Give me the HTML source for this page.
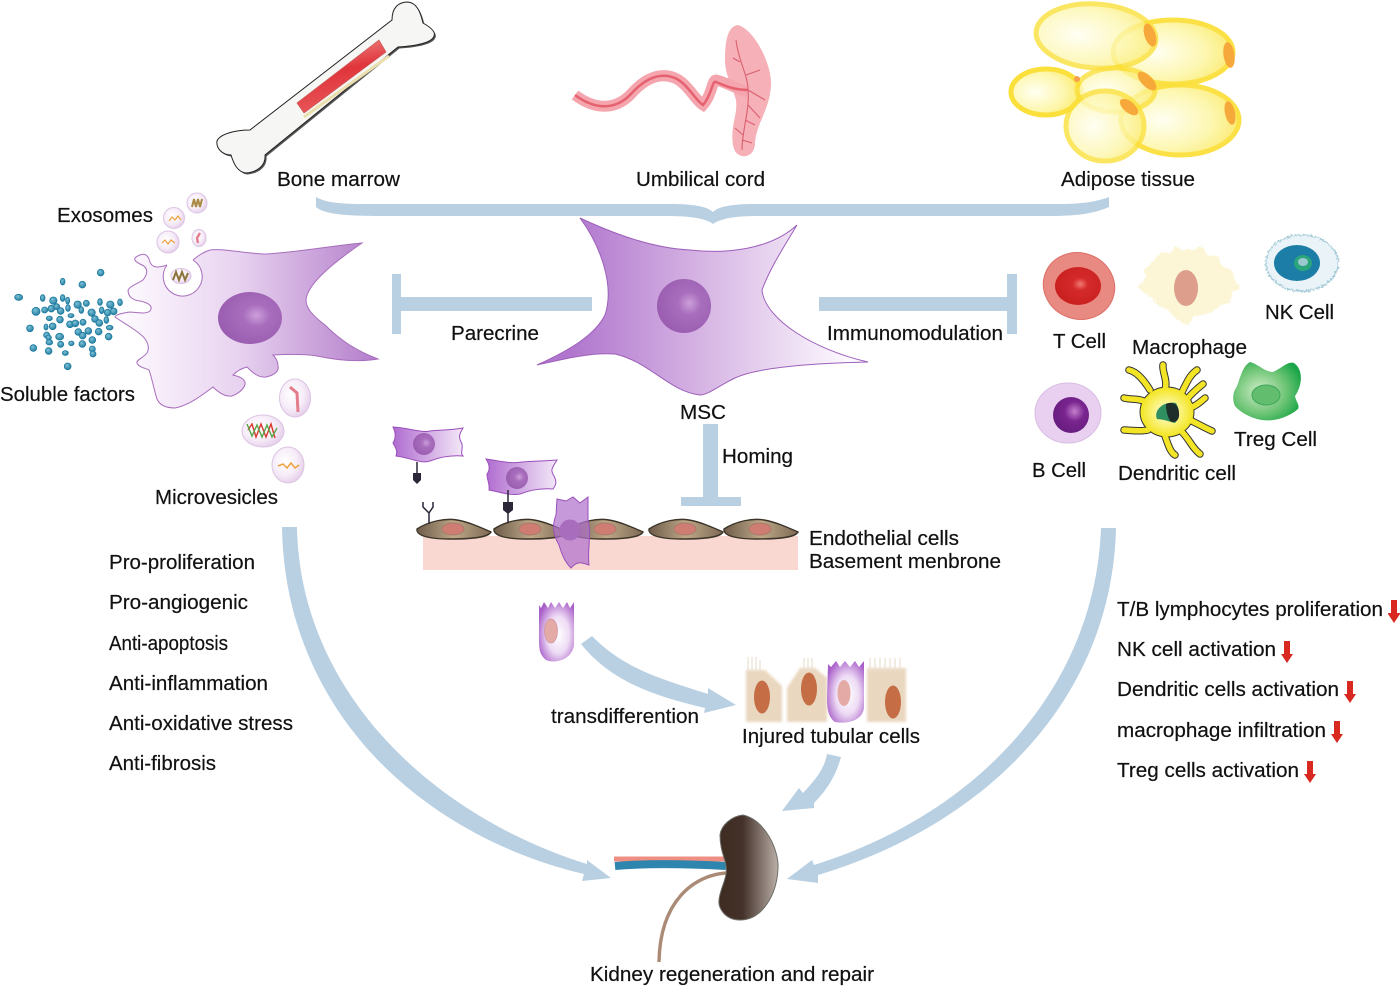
<!DOCTYPE html>
<html><head><meta charset="utf-8"><style>
html,body{margin:0;padding:0;background:#fff}
svg{display:block}
text{font-family:"Liberation Sans",sans-serif;font-size:20.5px;fill:#111;stroke:#111;stroke-width:.2}
</style></head><body>
<svg width="1400" height="986" viewBox="0 0 1400 986" xmlns="http://www.w3.org/2000/svg">
<defs>
<filter id="rough" x="-10%" y="-10%" width="120%" height="120%"><feTurbulence type="fractalNoise" baseFrequency=".45" numOctaves="2" seed="4"/><feDisplacementMap in="SourceGraphic" scale="5" xChannelSelector="R" yChannelSelector="G"/></filter>
<filter id="soft" x="-10%" y="-10%" width="120%" height="120%"><feGaussianBlur stdDeviation="1.2"/></filter>
<linearGradient id="lc" gradientUnits="userSpaceOnUse" x1="125" y1="0" x2="375" y2="0"><stop offset="0" stop-color="#fdf9fe"/><stop offset=".45" stop-color="#e8d3f0"/><stop offset="1" stop-color="#b47fcb"/></linearGradient>
<linearGradient id="mc" gradientUnits="userSpaceOnUse" x1="570" y1="0" x2="850" y2="0"><stop offset="0" stop-color="#b076cd"/><stop offset=".5" stop-color="#d8b8e5"/><stop offset="1" stop-color="#fdfafe"/></linearGradient>
<linearGradient id="sc"><stop offset="0" stop-color="#b06cd0"/><stop offset="1" stop-color="#f3e8f8"/></linearGradient>
<radialGradient id="nuc" cx=".6" cy=".45" r=".6"><stop offset="0" stop-color="#cd9fda"/><stop offset=".35" stop-color="#a86ebd"/><stop offset="1" stop-color="#9a5db0"/></radialGradient>
<radialGradient id="ves" cx=".4" cy=".4" r=".65"><stop offset="0" stop-color="#fff"/><stop offset=".6" stop-color="#f6ecf8"/><stop offset="1" stop-color="#e4cdea"/></radialGradient>
<radialGradient id="fat" cx=".35" cy=".5" r=".75"><stop offset="0" stop-color="#fffff2"/><stop offset=".55" stop-color="#fdf7ae"/><stop offset="1" stop-color="#fbe75a"/></radialGradient>
<linearGradient id="kid"><stop offset="0" stop-color="#3e2c22"/><stop offset=".4" stop-color="#44322a"/><stop offset="1" stop-color="#baafa8"/></linearGradient>
<linearGradient id="mar" x1="0" y1="0" x2=".25" y2="1"><stop offset="0" stop-color="#f09a94"/><stop offset=".5" stop-color="#e0353b"/><stop offset="1" stop-color="#e8575a"/></linearGradient>
<radialGradient id="tc" cx=".55" cy=".45" r=".55"><stop offset="0" stop-color="#f07a70"/><stop offset=".3" stop-color="#d52a2c"/><stop offset="1" stop-color="#c9201f"/></radialGradient>
<radialGradient id="tg" cx=".4" cy=".5" r=".65"><stop offset="0" stop-color="#d2edc8"/><stop offset=".6" stop-color="#6cc474"/><stop offset="1" stop-color="#1aa548"/></radialGradient>
<radialGradient id="bc" cx=".6" cy=".4" r=".55"><stop offset="0" stop-color="#c47fcd"/><stop offset=".5" stop-color="#7a2590"/><stop offset="1" stop-color="#6a1e82"/></radialGradient>
<radialGradient id="dc" cx=".5" cy=".5" r=".5"><stop offset="0" stop-color="#fffde0"/><stop offset=".55" stop-color="#faf27a"/><stop offset="1" stop-color="#f3e525"/></radialGradient>
<linearGradient id="end"><stop offset="0" stop-color="#6e5c4a"/><stop offset=".5" stop-color="#bda887"/><stop offset="1" stop-color="#7e6a55"/></linearGradient>
<radialGradient id="pt" cx=".55" cy=".55" r=".62"><stop offset="0" stop-color="#fff"/><stop offset=".5" stop-color="#eedcf5"/><stop offset="1" stop-color="#a95fc9"/></radialGradient>
<radialGradient id="dot" cx=".4" cy=".35" r=".7"><stop offset="0" stop-color="#7cc0d6"/><stop offset="1" stop-color="#1f7b9f"/></radialGradient>
<g id="ec"><path d="M-37,0 C-25,-8 -8,-11 3,-9 C15,-7 28,-1 37,3 C34,9 15,10 -5,10 C-20,10 -38,8 -37,0Z" fill="url(#end)" stroke="#3c3428" stroke-width="1.4"/><ellipse cx="-1" cy="0" rx="11" ry="6" fill="#cf7d72" stroke="#a87a6c" stroke-width="1"/></g>
</defs>

<!-- blue connectors -->
<g fill="#b9d0e3">
<path d="M316,197 C330,205 350,204 400,204 L670,204 C695,204 708,207 713,212 C718,207 730,204 755,204 L1060,204 C1085,204 1098,201 1109,197 L1109,207 C1095,213 1080,216 1050,216 L760,216 C735,216 722,218 713,224 C705,218 690,216 665,216 L385,216 C350,216 325,215 316,207Z"/>
<rect x="400" y="297" width="192" height="14"/><rect x="392" y="274" width="9" height="60"/>
<rect x="819" y="297" width="189" height="14"/><rect x="1007" y="274" width="10" height="60"/>
<rect x="703" y="424" width="15" height="74"/><rect x="681" y="497" width="60" height="9"/>
<path d="M282,527 L297,527 C300,690 430,815 587,864 L587,860 L611,878 L582,881 L584,874 C420,835 285,710 282,527Z"/>
<path d="M1101,528 L1116,528 C1112,700 985,825 818,875 L818,883 L787,879 L812,860 L814,865 C975,815 1095,690 1101,528Z"/>
<path d="M581,644 L592,636 C625,670 665,680 708,694 L708,688 L736,705 L704,713 L705,708 C650,695 610,680 581,644Z"/>
<path d="M827,754 L841,757 C835,780 822,795 814,803 L814,808 L782,811 L799,788 L803,793 C815,780 824,770 827,754Z"/>
</g>

<!-- bone -->
<path d="M392,20 C392,8 398,2 408,2 C416,3 420,10 423,23 C430,27 436,32 434,36 C432,43 415,46 398,47 L265,155 C266,165 258,172 246,173 C238,172 234,165 231,155 C222,155 216,148 217,141 C220,134 235,130 250,130Z" fill="#555" transform="translate(1.5,1.5)"/>
<path d="M392,20 C392,8 398,2 408,2 C416,3 420,10 423,23 C430,27 436,32 434,36 C432,43 415,46 398,47 L265,155 C266,165 258,172 246,173 C238,172 234,165 231,155 C222,155 216,148 217,141 C220,134 235,130 250,130Z" fill="#f6f6f5" stroke="#222" stroke-width="1"/>
<path d="M304,117 L389,56" stroke="#eadfae" stroke-width="3" fill="none"/>
<path d="M379,40 L386,52 L304,113 L297,103Z" fill="url(#mar)" stroke="#c65a55" stroke-width=".7"/>

<!-- umbilical cord -->
<path d="M738,25 C755,30 772,65 771,85 C770,110 755,125 755,145 C753,160 735,160 733,145 C730,125 738,115 736,100 C733,88 725,75 725,60 C725,40 728,26 738,25Z" fill="#f6b0b7"/>
<path d="M575,95 C595,110 615,110 630,95 C645,78 660,72 675,78 C688,84 695,100 703,105 C712,95 712,80 716,80 C725,82 735,88 748,92" fill="none" stroke="#f4a5ad" stroke-width="11"/>
<path d="M575,95 C595,110 615,110 630,95 C645,78 660,72 675,78 C688,84 695,100 703,105 C712,95 712,80 716,82 C725,86 735,90 748,90" fill="none" stroke="#e6616f" stroke-width="2.5"/>
<path d="M736,40 C738,60 748,75 748,90 C750,110 742,130 742,150 M748,90 L765,100 M746,75 L760,70 M740,62 L733,58 M748,105 L760,118 M745,120 L755,125 M743,135 L735,128 M742,140 L752,143" fill="none" stroke="#d9606f" stroke-width="1.1"/>

<!-- adipose -->
<g stroke="#fbe03c" stroke-width="5">
<ellipse cx="1173" cy="52" rx="60" ry="32" fill="url(#fat)" opacity=".95"/>
<ellipse cx="1180" cy="120" rx="59" ry="35" fill="url(#fat)" opacity=".95"/>
<ellipse cx="1096" cy="36" rx="60" ry="32" fill="url(#fat)" opacity=".8" transform="rotate(4 1096 36)"/>
<ellipse cx="1046" cy="92" rx="35" ry="23" fill="url(#fat)"/>
<ellipse cx="1116" cy="90" rx="39" ry="22" fill="url(#fat)" opacity=".8"/>
<ellipse cx="1105" cy="126" rx="39" ry="35" fill="url(#fat)" opacity=".8"/>
</g>
<g fill="#f6a93a">
<ellipse cx="1150" cy="35" rx="5.5" ry="12" transform="rotate(-18 1150 35)"/>
<ellipse cx="1229" cy="55" rx="5.5" ry="13" transform="rotate(-8 1229 55)"/>
<ellipse cx="1147" cy="81" rx="5.5" ry="12" transform="rotate(-45 1147 81)"/>
<ellipse cx="1129" cy="107" rx="5.5" ry="11" transform="rotate(-50 1129 107)"/>
<ellipse cx="1230" cy="113" rx="5" ry="12" transform="rotate(-12 1230 113)"/>
<circle cx="1077" cy="79" r="3" fill="#f6a050"/>
</g>

<!-- left cell -->
<path d="M362,243 C330,246 300,252 267,254 C245,254 225,248 210,250 C203,252 198,256 193,260 C190,267 170,267 167,265 C158,268 152,268 150,262 C148,255 145,253 140,255 C132,258 134,261 140,264 C150,268 147,275 143,280 C137,284 128,287 128,291 C129,298 133,300 140,301 C150,303 153,307 150,311 C146,314 140,313 130,312 C122,313 115,315 115,317 C122,322 133,328 140,334 C148,340 150,348 147,353 C143,358 136,360 137,363 C139,368 146,368 149,370 C152,378 154,390 157,399 C160,406 168,408 175,408 C190,405 205,393 213,387 C218,392 225,397 232,396 C240,393 246,387 245,382 C243,377 236,376 233,375 C238,370 243,368 247,367 C252,372 258,378 266,377 C276,375 279,370 278,366 C278,361 275,357 273,355 C290,354 305,354 317,356 C340,361 360,362 378,359 C355,350 340,340 325,325 C312,315 306,308 306,300 C307,285 330,265 362,243Z" fill="url(#lc)" stroke="#a76dbd" stroke-width="1"/>
<path d="M167,265 A19.5,19.5 0 1 0 193,260 L193,255 L167,258Z" fill="#fff" stroke="none"/>
<path d="M167,265 A19.5,19.5 0 1 0 193,260" fill="none" stroke="#a76dbd" stroke-width="1"/>
<ellipse cx="250" cy="318" rx="32" ry="26" fill="url(#nuc)"/>

<!-- MSC -->
<path d="M580,218 C610,232 650,248 690,250 C725,254 770,250 797,225 C785,245 770,268 762,290 C765,320 815,350 868,362 C825,363 760,366 735,378 C720,385 708,395 700,395 C670,392 650,362 615,354 C590,352 560,360 537,365 C570,350 595,335 605,315 C615,285 600,245 580,218Z" fill="url(#mc)" stroke="#9d5fbb" stroke-width="1"/>
<circle cx="684" cy="306" r="27" fill="url(#nuc)"/>

<!-- soluble factors -->
<g fill="url(#dot)" stroke="#1f7b9f" stroke-width="2.5" transform="translate(0,180) scale(.3333)">
<circle cx="302" cy="278" r="10"/><ellipse cx="188" cy="305" rx="7" ry="10"/><circle cx="247" cy="314" r="10"/><ellipse cx="56" cy="352" rx="12" ry="9"/><ellipse cx="128" cy="354" rx="7" ry="10"/><circle cx="160" cy="362" r="11"/><ellipse cx="188" cy="354" rx="7" ry="10"/><ellipse cx="203" cy="362" rx="6" ry="10"/><circle cx="233" cy="374" r="11"/><circle cx="259" cy="370" r="9"/><ellipse cx="300" cy="366" rx="7" ry="10"/><circle cx="331" cy="374" r="11"/><ellipse cx="360" cy="367" rx="7" ry="10"/><circle cx="108" cy="394" r="12"/><circle cx="134" cy="390" r="9"/><circle cx="154" cy="386" r="10"/><circle cx="170" cy="380" r="9"/><circle cx="182" cy="393" r="10"/><ellipse cx="204" cy="384" rx="7" ry="10"/><ellipse cx="244" cy="390" rx="7" ry="10"/><circle cx="275" cy="398" r="11"/><ellipse cx="305" cy="391" rx="7" ry="10"/><circle cx="323" cy="398" r="10"/><circle cx="341" cy="394" r="10"/><ellipse cx="148" cy="415" rx="9" ry="7"/><circle cx="180" cy="419" r="10"/><ellipse cx="213" cy="407" rx="9" ry="6"/><circle cx="285" cy="417" r="10"/><circle cx="298" cy="429" r="10"/><ellipse cx="319" cy="420" rx="7" ry="10"/><circle cx="90" cy="445" r="10"/><ellipse cx="138" cy="441" rx="6" ry="9"/><circle cx="158" cy="439" r="10"/><circle cx="210" cy="433" r="10"/><circle cx="226" cy="430" r="10"/><circle cx="249" cy="427" r="9"/><ellipse cx="329" cy="443" rx="10" ry="7"/><circle cx="235" cy="456" r="10"/><circle cx="265" cy="453" r="10"/><circle cx="296" cy="455" r="10"/><circle cx="140" cy="465" r="9"/><ellipse cx="179" cy="470" rx="12" ry="10"/><circle cx="248" cy="467" r="10"/><circle cx="326" cy="470" r="10"/><circle cx="146" cy="473" r="8"/><ellipse cx="148" cy="487" rx="10" ry="8"/><circle cx="277" cy="480" r="10"/><circle cx="182" cy="493" r="9"/><ellipse cx="214" cy="490" rx="8" ry="7"/><circle cx="247" cy="492" r="10"/><circle cx="100" cy="504" r="10"/><circle cx="146" cy="513" r="10"/><ellipse cx="196" cy="519" rx="9" ry="7"/><circle cx="277" cy="507" r="9"/><circle cx="279" cy="522" r="9"/><circle cx="203" cy="559" r="10"/>
</g>

<!-- vesicles -->
<g fill="url(#ves)" stroke="#dcc3e4" stroke-width="1">
<circle cx="197" cy="203" r="10"/><circle cx="174" cy="218" r="10.5"/><circle cx="168" cy="242" r="11"/><ellipse cx="199" cy="238" rx="7" ry="8.5"/><ellipse cx="181" cy="276" rx="10" ry="7.5"/>
<ellipse cx="295" cy="398" rx="15.5" ry="19"/><ellipse cx="263" cy="431" rx="21" ry="16"/><ellipse cx="288" cy="465" rx="16" ry="18"/>
</g>
<g fill="none" stroke-width="1.2">
<path d="M192,207 L194,199 L196,207 L198,199 L200,207 L202,199" stroke="#a88a44" stroke-width="2"/>
<path d="M169,221 L172,217 L175,220 L178,216 L181,220" stroke="#eca33e"/>
<path d="M162,243 L165,240 L168,244 L171,240 L175,243" stroke="#eca33e"/>
<path d="M200,233 L197,238 L198,243" stroke="#e57d90" stroke-width="2.4"/>
<path d="M173,280 L176,272 L179,280 L182,272 L185,280 L188,273" stroke="#8b7438" stroke-width="2"/>
<path d="M290,387 L297,393 L298,412" stroke="#e47c8c" stroke-width="3"/>
<path d="M248,430 L252,424 L256,437 L261,424 L266,437 L271,424 L275,438" stroke="#d9362d" stroke-width="1.4"/>
<path d="M247,424 L252,436 L257,425 L262,437 L267,425 L272,437 L277,428" stroke="#57a84a" stroke-width="1.4"/>
<path d="M278,466 L283,464 L287,468 L291,463 L295,468 L299,465" stroke="#eca33e" stroke-width="1.5"/>
</g>

<!-- endothelium -->
<rect x="423" y="536" width="375" height="34" fill="#fad8d2"/>
<use href="#ec" x="454" y="529"/><use href="#ec" x="531" y="529"/><use href="#ec" x="606" y="529"/><use href="#ec" x="686" y="529"/><use href="#ec" x="761" y="529"/>
<g fill="url(#sc)" stroke="#9a4fbb" stroke-width="1">
<path d="M393,427 C410,428 420,433 430,431 C440,430 452,430 463,428 C458,436 459,438 462,444 C463,450 460,453 463,456 C450,455 440,457 430,461 C420,464 412,458 396,456 C398,450 395,447 393,443 C396,438 396,433 393,427Z"/>
<path d="M486,459 C500,461 510,464 522,462 C535,461 548,461 557,460 C552,468 550,470 554,476 C557,482 556,485 553,489 C540,488 530,490 520,494 C510,496 500,492 489,490 C490,484 487,480 487,474 C490,470 490,465 486,459Z"/>
</g>
<circle cx="424" cy="444" r="11" fill="url(#nuc)"/><circle cx="517" cy="478" r="11" fill="url(#nuc)"/>
<path d="M557,499 L566,501 L573,497 L580,503 L588,497 L588,520 C592,535 587,548 589,565 C582,563 578,560 571,568 C565,562 562,555 559,545 C553,535 552,525 556,515Z" fill="#b071cc" fill-opacity=".72" stroke="#9a4fbb" stroke-width="1"/>
<circle cx="570" cy="530" r="10.5" fill="#a86ebd"/>
<g fill="none" stroke="#2b2638" stroke-width="1.5">
<path d="M417,462 L417,474"/><path d="M429,524 L429,513 L423,507 L423,502 M429,513 L433,507 L433,502"/><path d="M508,490 L508,523"/>
</g>
<path d="M413,473 L421,473 L421,480 L417,484 L413,480Z" fill="#2b2638"/>
<path d="M503,502 L513,502 L513,510 L508,514 L503,510Z" fill="#2b2638"/>

<!-- tubular -->
<path d="M539,605 L541,608 L544,602 L548,608 L551,602 L555,608 L559,602 L563,608 L567,602 L570,608 L574,602 L574,645 C572,660 555,664 546,660 C540,655 539,650 539,640Z" fill="url(#pt)"/>
<ellipse cx="551" cy="631" rx="6.5" ry="12" fill="#e3aaa6" stroke="#d090a0" stroke-width=".7"/>
<g filter="url(#soft)" fill="#ead7bf">
<path d="M746,670 L765,670 L782,686 L782,722 L746,722Z"/>
<path d="M787,688 L800,668 L815,668 L827,678 L827,722 L787,722Z"/>
<path d="M867,668 L906,668 L906,722 L867,722Z"/>
</g>
<path d="M748,657 V672 M752,657 V672 M756,657 V672 M760,660 V672 M870,658 V672 M875,658 V672 M880,658 V672 M885,658 V672 M890,658 V672 M895,658 V672 M900,658 V672 M804,658 V672 M808,658 V672 M812,658 V672" stroke="#eadfd0" stroke-width="1.2"/>
<ellipse cx="762" cy="697" rx="8" ry="16.5" fill="#c56d45"/>
<ellipse cx="809" cy="689" rx="8" ry="16.5" fill="#c56d45"/>
<ellipse cx="893" cy="702" rx="8" ry="16.5" fill="#c56d45"/>
<path d="M828,664 L831,667 L836,661 L840,667 L845,661 L850,667 L855,661 L859,667 L864,661 L864,708 C862,722 845,724 835,722 C828,717 827,708 827,698Z" fill="url(#pt)"/>
<ellipse cx="844" cy="693" rx="6.5" ry="13" fill="#e3aaa6"/>

<!-- immune cells -->
<ellipse cx="1079" cy="286" rx="36" ry="33" fill="#e98a82" stroke="#dc6f68" stroke-width="1" transform="rotate(20 1079 286)"/>
<ellipse cx="1078" cy="286" rx="23" ry="19" fill="url(#tc)"/>
<path filter="url(#rough)" d="M1162,252 L1170,253 L1176,246 L1182,250 L1195,250 L1202,245 L1208,256 L1218,256 L1222,266 L1232,270 L1236,282 L1241,288 L1232,292 L1230,302 L1220,306 L1212,312 L1204,315 L1194,316 L1188,326 L1176,319 L1168,310 L1158,306 L1152,298 L1142,292 L1138,286 L1146,278 L1144,270 L1152,262Z" fill="#fcf5d6"/>
<ellipse cx="1186" cy="288" rx="12" ry="18" fill="#dd9f8c"/>
<ellipse filter="url(#rough)" cx="1302" cy="263" rx="36" ry="28" fill="#eaf4f8" stroke="#a6cbd8" stroke-width="1.5"/>
<ellipse cx="1297" cy="263" rx="23" ry="18" fill="#1c7ea6"/>
<ellipse cx="1303" cy="263" rx="9" ry="8" fill="#2aa57c"/>
<ellipse cx="1303" cy="262" rx="5" ry="4" fill="#9cc9d0"/>
<ellipse cx="1068" cy="413" rx="33" ry="30" fill="#e9d0f0" stroke="#d9bce3" stroke-width="1"/>
<circle cx="1071" cy="415" r="18" fill="url(#bc)"/>
<!-- dendritic -->
<g fill="none" stroke-linecap="round">
<path id="arms" stroke="#333" stroke-width="7.5" d="M1165,390 C1168,380 1162,372 1163,365 M1182,392 C1188,380 1190,375 1197,370 M1188,398 C1193,392 1198,388 1203,384 M1190,408 C1196,406 1200,402 1205,398 M1190,420 C1198,424 1205,428 1212,431 M1182,432 C1190,440 1192,448 1200,454 M1165,436 C1168,444 1170,452 1175,455 M1148,430 C1138,432 1130,430 1124,430 M1146,402 C1138,398 1132,400 1124,398 M1150,390 C1145,382 1138,372 1129,370"/>
</g>
<ellipse cx="1167" cy="412" rx="27" ry="25" fill="#f3e525" stroke="#333" stroke-width="1"/>
<path fill="none" stroke="#f3e525" stroke-width="5.5" stroke-linecap="round" d="M1165,390 C1168,380 1162,372 1163,365 M1182,392 C1188,380 1190,375 1197,370 M1188,398 C1193,392 1198,388 1203,384 M1190,408 C1196,406 1200,402 1205,398 M1190,420 C1198,424 1205,428 1212,431 M1182,432 C1190,440 1192,448 1200,454 M1165,436 C1168,444 1170,452 1175,455 M1148,430 C1138,432 1130,430 1124,430 M1146,402 C1138,398 1132,400 1124,398 M1150,390 C1145,382 1138,372 1129,370"/>
<ellipse cx="1167" cy="412" rx="26" ry="24" fill="url(#dc)"/>
<path d="M1165,404 C1168,403 1172,402 1176,403 C1180,410 1180,418 1175,423 C1170,422 1167,420 1157,419 C1154,412 1160,406 1165,404Z" fill="#2f8f60"/>
<path d="M1166,404 C1172,401 1179,404 1179,413 C1180,420 1175,424 1170,421 C1167,415 1166,410 1166,404Z" fill="#1e2e2a"/>
<path d="M1250,362 C1258,364 1265,372 1273,372 C1282,368 1288,361 1294,363 C1304,370 1302,386 1295,396 C1296,402 1300,405 1298,409 C1290,416 1276,422 1262,420 C1250,418 1240,412 1235,406 C1232,400 1233,392 1236,388 C1240,380 1242,366 1250,362Z" fill="url(#tg)"/>
<ellipse cx="1266" cy="395" rx="14" ry="10" fill="#63bd6e" stroke="#3da75a" stroke-width="1"/>

<!-- kidney -->
<path d="M614,859 H726" stroke="#ef8f84" stroke-width="5" fill="none"/>
<path d="M615,866 C650,863 690,864 726,866" stroke="#2e85ad" stroke-width="8" fill="none"/>
<path d="M726,873 C695,875 660,900 659,962" fill="none" stroke="#ab8a76" stroke-width="3.4"/>
<path d="M743,815 C765,820 779,850 778,868 C777,895 762,920 740,920 C725,920 718,908 719,900 C720,888 728,878 726,866 C725,858 720,850 720,835 C721,825 732,816 743,815Z" fill="url(#kid)" stroke="#6e6e68" stroke-width="1"/>

<!-- red arrows -->
<g fill="#d8281f">
<path d="M1391,600 H1397 V613 H1400 V614 L1394,623 L1388,614 V613 H1391Z"/>
<path d="M1284,641 H1290 V654 H1293 L1287,663 L1281,654 H1284Z"/>
<path d="M1347,681 H1353 V694 H1356 L1350,703 L1344,694 H1347Z"/>
<path d="M1334,721 H1340 V734 H1343 L1337,743 L1331,734 H1334Z"/>
<path d="M1307,761 H1313 V774 H1316 L1310,783 L1304,774 H1307Z"/>
</g>

<!-- labels -->
<g lengthAdjust="spacingAndGlyphs">
<text x="277" y="186" textLength="123" lengthAdjust="spacingAndGlyphs">Bone marrow</text>
<text x="636" y="186" textLength="129" lengthAdjust="spacingAndGlyphs">Umbilical cord</text>
<text x="1061" y="186" textLength="134" lengthAdjust="spacingAndGlyphs">Adipose tissue</text>
<text x="57" y="222" textLength="96" lengthAdjust="spacingAndGlyphs">Exosomes</text>
<text x="0" y="401" textLength="135" lengthAdjust="spacingAndGlyphs">Soluble factors</text>
<text x="155" y="504" textLength="123" lengthAdjust="spacingAndGlyphs">Microvesicles</text>
<text x="451" y="340" textLength="88" lengthAdjust="spacingAndGlyphs">Parecrine</text>
<text x="827" y="340" textLength="176" lengthAdjust="spacingAndGlyphs">Immunomodulation</text>
<text x="680" y="419" textLength="46" lengthAdjust="spacingAndGlyphs">MSC</text>
<text x="722" y="463" textLength="71" lengthAdjust="spacingAndGlyphs">Homing</text>
<text x="1053" y="348" textLength="53" lengthAdjust="spacingAndGlyphs">T Cell</text>
<text x="1132" y="354" textLength="115" lengthAdjust="spacingAndGlyphs">Macrophage</text>
<text x="1265" y="319" textLength="69" lengthAdjust="spacingAndGlyphs">NK Cell</text>
<text x="1032" y="477" textLength="54" lengthAdjust="spacingAndGlyphs">B Cell</text>
<text x="1118" y="480" textLength="118" lengthAdjust="spacingAndGlyphs">Dendritic cell</text>
<text x="1234" y="446" textLength="83" lengthAdjust="spacingAndGlyphs">Treg Cell</text>
<text x="809" y="545" textLength="150" lengthAdjust="spacingAndGlyphs">Endothelial cells</text>
<text x="809" y="568" textLength="192" lengthAdjust="spacingAndGlyphs">Basement menbrone</text>
<text x="109" y="569" textLength="146" lengthAdjust="spacingAndGlyphs">Pro-proliferation</text>
<text x="109" y="609" textLength="139" lengthAdjust="spacingAndGlyphs">Pro-angiogenic</text>
<text x="109" y="650" textLength="119" lengthAdjust="spacingAndGlyphs">Anti-apoptosis</text>
<text x="109" y="690" textLength="159" lengthAdjust="spacingAndGlyphs">Anti-inflammation</text>
<text x="109" y="730" textLength="184" lengthAdjust="spacingAndGlyphs">Anti-oxidative stress</text>
<text x="109" y="770" textLength="107" lengthAdjust="spacingAndGlyphs">Anti-fibrosis</text>
<text x="1117" y="616" textLength="266" lengthAdjust="spacingAndGlyphs">T/B lymphocytes proliferation</text>
<text x="1117" y="656" textLength="159" lengthAdjust="spacingAndGlyphs">NK cell activation</text>
<text x="1117" y="696" textLength="222" lengthAdjust="spacingAndGlyphs">Dendritic cells activation</text>
<text x="1117" y="737" textLength="209" lengthAdjust="spacingAndGlyphs">macrophage infiltration</text>
<text x="1117" y="777" textLength="182" lengthAdjust="spacingAndGlyphs">Treg cells activation</text>
<text x="551" y="723" textLength="148" lengthAdjust="spacingAndGlyphs">transdifferention</text>
<text x="742" y="743" textLength="178" lengthAdjust="spacingAndGlyphs">Injured tubular cells</text>
<text x="590" y="981" textLength="284" lengthAdjust="spacingAndGlyphs">Kidney regeneration and repair</text>
</g>
</svg>
</body></html>
